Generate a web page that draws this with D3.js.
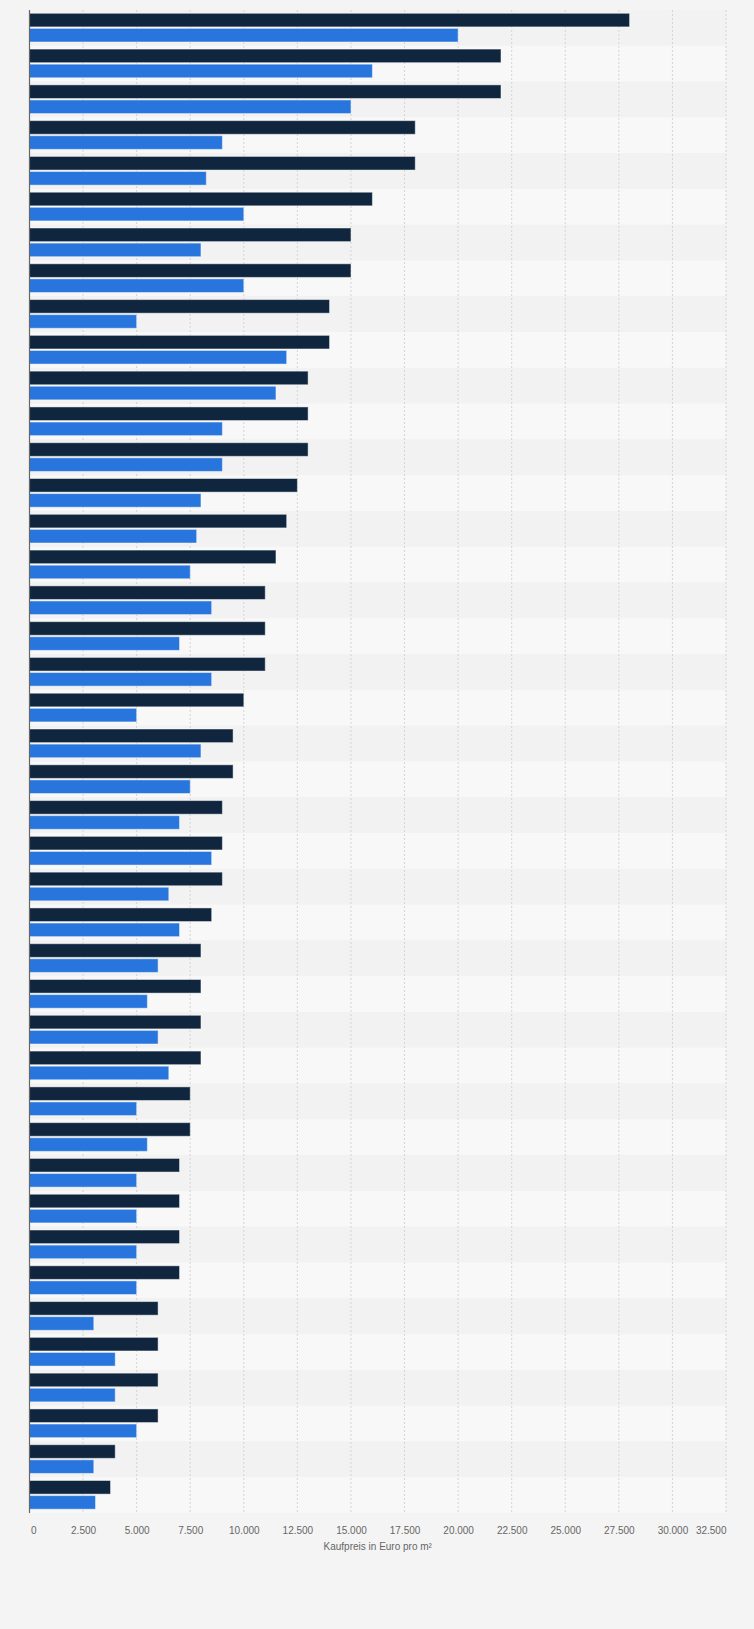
<!DOCTYPE html>
<html>
<head>
<meta charset="utf-8">
<script src="https://cdn.jsdelivr.net/npm/d3@7"></script>
<style>
  body { margin: 0; background: #f4f4f4; }
  svg { display: block; font-family: "Liberation Sans", Arial, sans-serif; }
</style>
</head>
<body>
<svg id="chart"></svg>
<script>

// werte je zeile (oben nach unten), zwei reihen
var valuesDark = [28000, 22000, 22000, 18000, 18000, 16000, 15000, 15000, 14000, 14000,
    13000, 13000, 13000, 12500, 12000, 11500, 11000, 11000, 11000, 10000,
    9500, 9500, 9000, 9000, 9000, 8500, 8000, 8000, 8000, 8000,
    7500, 7500, 7000, 7000, 7000, 7000, 6000, 6000, 6000, 6000,
    4000, 3780];

var valuesBlue = [20000, 16000, 15000, 9000, 8250, 10000, 8000, 10000, 5000, 12000,
    11500, 9000, 9000, 8000, 7800, 7500, 8500, 7000, 8500, 5000,
    8000, 7500, 7000, 8500, 6500, 7000, 6000, 5500, 6000, 6500,
    5000, 5500, 5000, 5000, 5000, 5000, 3000, 4000, 4000, 5000,
    3000, 3080];

var rows = d3.range(valuesDark.length);
var seriesKeys = ["dark", "blue"];
var seriesColors = ["#10263e", "#2876dd"];

var xTicks = [0, 2500, 5000, 7500, 10000, 12500, 15000, 17500, 20000, 22500, 25000, 27500, 30000, 32500];
var xTitle = "Kaufpreis in Euro pro m²";

var width = 754,
    height = 1629,
    margin = { top: 10, right: 28, bottom: 116, left: 29.5 };

var de = d3.formatLocale({ decimal: ",", thousands: ".", grouping: [3], currency: ["", " €"] });
var fmt = de.format(",d");

var svg = d3.select("#chart")
    .attr("width", width)
    .attr("height", height);

var xScale = d3.scaleLinear()
    .domain([0, 32500])
    .range([margin.left, width - margin.right]);

var yScale = d3.scaleBand()
    .domain(rows)
    .range([margin.top, height - margin.bottom])
    .padding(0);

var inner = d3.scaleBand()
    .domain(seriesKeys)
    .range([3.3, yScale.bandwidth() - 3.8])
    .paddingInner(0.1);

// abwechselnde zeilen-hintergruende
svg.append("g")
    .selectAll("rect")
    .data(rows)
    .join("rect")
    .attr("x", xScale(0))
    .attr("width", xScale(32500) - xScale(0))
    .attr("y", function (d) { return yScale(d); })
    .attr("height", yScale.bandwidth())
    .style("fill", function (d) { return d % 2 === 0 ? "#f2f2f2" : "#f8f8f8"; });

// gitterlinien
svg.append("g")
    .selectAll("line")
    .data(xTicks.slice(1))
    .join("line")
    .attr("x1", function (d) { return xScale(d); })
    .attr("x2", function (d) { return xScale(d); })
    .attr("y1", margin.top)
    .attr("y2", height - margin.bottom)
    .style("stroke", "#d4d4d4")
    .style("stroke-width", 1)
    .style("stroke-dasharray", "2,2");

// balken
var groups = svg.append("g")
    .selectAll("g")
    .data(rows)
    .join("g")
    .attr("transform", function (d) { return "translate(0," + yScale(d) + ")"; });

groups.selectAll("rect")
    .data(function (i) {
        return [
            { key: "dark", value: valuesDark[i] },
            { key: "blue", value: valuesBlue[i] }
        ];
    })
    .join("rect")
    .attr("x", xScale(0))
    .attr("y", function (d) { return inner(d.key); })
    .attr("width", function (d) { return xScale(d.value) - xScale(0); })
    .attr("height", inner.bandwidth())
    .style("fill", function (d) { return seriesColors[seriesKeys.indexOf(d.key)]; })
    .style("stroke", "rgba(255,255,255,0.45)")
    .style("stroke-width", 1);

// y-achsenlinie
svg.append("line")
    .attr("x1", xScale(0))
    .attr("x2", xScale(0))
    .attr("y1", margin.top)
    .attr("y2", height - margin.bottom)
    .style("stroke", "#666")
    .style("stroke-width", 1.2);

// x-achse
var xAxis = d3.axisBottom(xScale)
    .tickValues(xTicks)
    .tickSize(0)
    .tickPadding(14)
    .tickFormat(fmt);

var axisG = svg.append("g")
    .attr("transform", "translate(0," + (height - margin.bottom) + ")")
    .call(xAxis);

axisG.select(".domain").remove();
axisG.selectAll("text")
    .style("font-size", "10px")
    .style("fill", "#666")
    .attr("text-anchor", function (d, i) {
        if (i === 0) return "start";
        if (i === xTicks.length - 1) return "end";
        return "middle";
    })
    .attr("dx", function (d, i) { return i === 0 ? "1" : 0; });

svg.append("text")
    .attr("x", (xScale(0) + xScale(32500)) / 2)
    .attr("y", height - margin.bottom + 37)
    .attr("text-anchor", "middle")
    .style("font-size", "10px")
    .style("fill", "#666")
    .text(xTitle);

</script>
</body>
</html>
